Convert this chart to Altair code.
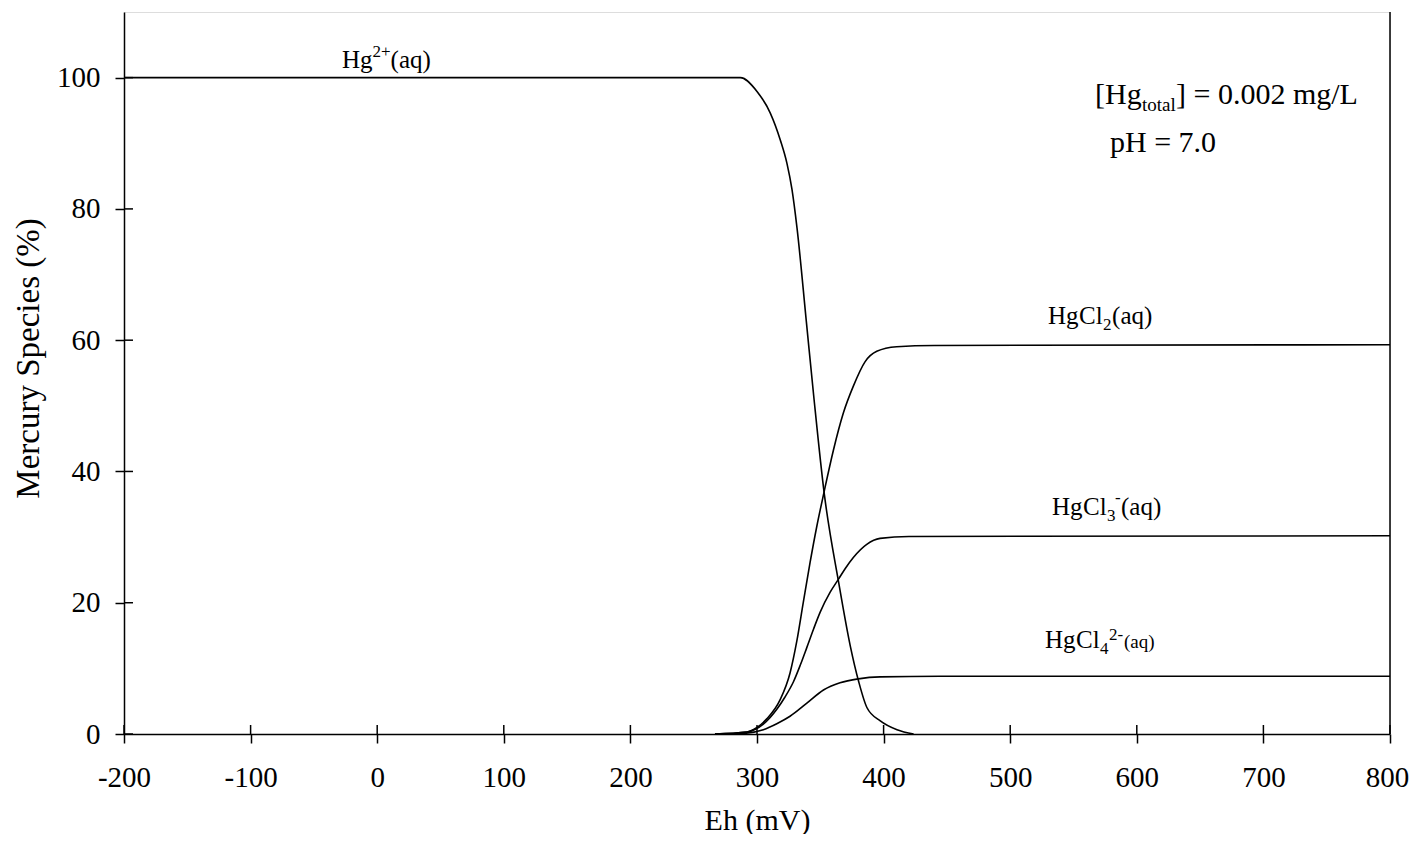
import altair as alt
import pandas as pd

# ---- data ----
hg2_eh = [-200, 280, 286.8, 300, 310.5, 318.4, 323.7, 327.6, 331.6, 339, 344.8, 353.2, 364.5, 373.7, 380.3, 386.9, 397.4, 410.6, 423.7]
hg2_pc = [100, 100, 100, 97.9, 94.6, 90.5, 86.9, 83.0, 77.1, 62.8, 51.5, 36.5, 23.1, 13.4, 8.0, 4.0, 2.0, 0.65, 0]

hgcl2_eh = [266.8, 292, 300, 307.7, 318.2, 326.1, 331.4, 336.6, 341.9, 347.1, 352.9, 360.3, 368.2, 376.1, 385.3, 394.6, 410.3, 440, 800]
hgcl2_pc = [0, 0.3, 1.0, 2.3, 5.2, 9.3, 14.1, 20.1, 26.1, 31.5, 36.8, 43.2, 48.9, 53.0, 56.7, 58.3, 59.0, 59.2, 59.3]

hgcl3_eh = [266.8, 292, 305, 315.8, 322, 328.9, 334.2, 339.4, 344.7, 350, 357.8, 364.4, 370, 376.1, 386.7, 397.2, 420, 800]
hgcl3_pc = [0, 0.3, 1.5, 3.8, 5.6, 8.0, 10.5, 13.2, 16.0, 18.6, 21.6, 23.6, 25.3, 26.9, 28.9, 29.8, 30.1, 30.2]

hgcl4_eh = [266.8, 290, 305, 316, 326.1, 339.4, 352.5, 365.6, 380.1, 397.2, 444.6, 800]
hgcl4_pc = [0, 0.1, 0.65, 1.6, 2.7, 4.7, 6.7, 7.8, 8.4, 8.7, 8.8, 8.8]

x_ticks = [-200, -100, 0, 100, 200, 300, 400, 500, 600, 700, 800]
y_ticks = [0, 20, 40, 60, 80, 100]

# label pieces: (anchor Eh, anchor %, [(text, dx, dy, size), ...])
labels = [
    (-27.8, 101.5, [("Hg", 0, 0, 25), ("2+", 30.5, -11, 17), ("(aq)", 48.6, 0, 25)]),
    (529.9, 62.5, [("Hg", 0, 0, 25), ("Cl", 31, 0, 25), ("2", 55, 6, 17), ("(aq)", 64, 0, 25)]),
    (533.0, 33.4, [("Hg", 0, 0, 25), ("Cl", 31, 0, 25), ("3", 55, 6, 17), ("-", 63, -12, 17), ("(aq)", 69, 0, 25)]),
    (527.5, 13.1, [("Hg", 0, 0, 25), ("Cl", 31, 0, 25), ("4", 55, 6, 17), ("2-", 64, -8, 17), ("(aq)", 79, 0, 19)]),
    (567.0, 96.0, [("[Hg", 0, 0, 30), ("total", 47, 7, 19), ("] = 0.002 mg/L", 81, 0, 30)]),
    (578.8, 88.7, [("pH = 7.0", 0, 0, 30)]),
]

FONT = "Liberation Serif"
W, H = 1266, 722

rows = []
for name, ehs, pcs in [("Hg2+", hg2_eh, hg2_pc), ("HgCl2", hgcl2_eh, hgcl2_pc),
                       ("HgCl3-", hgcl3_eh, hgcl3_pc), ("HgCl4 2-", hgcl4_eh, hgcl4_pc)]:
    for i, (e, p) in enumerate(zip(ehs, pcs)):
        rows.append({"species": name, "eh": e, "pct": p, "i": i})
df = pd.DataFrame(rows)

xscale = alt.Scale(domain=[-200, 800], nice=False, zero=False)
yscale = alt.Scale(domain=[0, 110], nice=False)

lines = alt.Chart(df).mark_line(color="black", strokeWidth=1.6, interpolate="monotone").encode(
    x=alt.X("eh:Q", scale=xscale, title="Eh (mV)",
            axis=alt.Axis(values=x_ticks, labelExpr="'' + datum.value", grid=False, labelFlush=False,
                          labelOffset={"condition": {"test": "datum.value == 800", "value": -3}, "value": 0},
                          domainColor="black", domainWidth=1.5, tickColor="black", tickWidth=1.5,
                          tickSize=9, labelPadding=34, labelBaseline="middle",
                          labelFont=FONT, labelFontSize=29, labelColor="black",
                          titleFont=FONT, titleFontSize=30, titleFontWeight="normal", titleColor="black",
                          titleBaseline="middle", titleY=86, titleX=W / 2)),
    y=alt.Y("pct:Q", scale=yscale, title="Mercury Species (%)",
            axis=alt.Axis(values=y_ticks, grid=False, labelFlush=False,
                          domainColor="black", domainWidth=1.5, tickColor="black", tickWidth=1.5,
                          tickSize=9, labelPadding=15, labelBaseline="middle",
                          labelFont=FONT, labelFontSize=29, labelColor="black",
                          titleFont=FONT, titleFontSize=33, titleFontWeight="normal", titleColor="black",
                          titleBaseline="middle", titleAngle=270, titleAlign="center",
                          titleX=-96, titleY=346)),
    detail="species:N",
    order="i:Q",
)

xt = alt.Chart(pd.DataFrame({"v": x_ticks})).mark_rule(color="black", strokeWidth=1.5).encode(
    x=alt.X("v:Q", scale=xscale), y=alt.value(H - 9), y2=alt.value(H))
yt = alt.Chart(pd.DataFrame({"v": y_ticks})).mark_rule(color="black", strokeWidth=1.5).encode(
    y=alt.Y("v:Q", scale=yscale), x=alt.value(0), x2=alt.value(9))
border = alt.Chart(pd.DataFrame({"v": [800]})).mark_rule(color="black", strokeWidth=1.5).encode(
    x=alt.X("v:Q", scale=xscale), y=alt.value(0), y2=alt.value(H))

layers = [lines, xt, yt, border]
for ax, ay, pieces in labels:
    for text, dx, dy, size in pieces:
        layers.append(
            alt.Chart(pd.DataFrame({"x": [ax], "y": [ay], "t": [text]})).mark_text(
                align="left", baseline="alphabetic", dx=dx, dy=dy, fontSize=size,
                font=FONT, color="black").encode(
                x=alt.X("x:Q", scale=xscale), y=alt.Y("y:Q", scale=yscale), text="t:N"))

chart = alt.layer(*layers).properties(
    width=W, height=H, autosize=alt.AutoSizeParams(type="none"),
    padding={"left": 116, "top": 4, "right": 19, "bottom": 100},
).configure_view(stroke=None).configure(background="white")

chart.save("out.html", embed_options={"renderer": "svg", "actions": False})
